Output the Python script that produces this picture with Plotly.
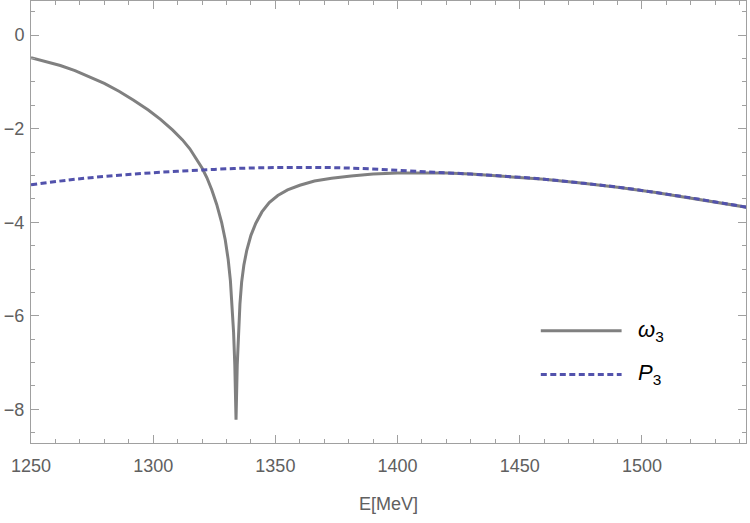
import plotly.graph_objects as go

# omega_3 curve
E_omega = [1250, 1256, 1262, 1268, 1274, 1280, 1286, 1292, 1298, 1303, 1308, 1312, 1315,
           1318, 1320, 1322, 1324, 1326, 1328, 1329.5, 1330.7, 1331.6, 1332.3, 1332.9,
           1333.4, 1333.9, 1334.4, 1334.9, 1335.5, 1336.2, 1337.1, 1338.3, 1340, 1342,
           1344.5, 1347.5, 1351, 1355, 1360, 1366, 1373, 1381, 1390, 1400, 1410, 1420,
           1430, 1445, 1460, 1475, 1490, 1505, 1520, 1535, 1543]
V_omega = [-0.48, -0.56, -0.65, -0.76, -0.89, -1.03, -1.20, -1.39, -1.60, -1.80, -2.03,
           -2.24, -2.43, -2.66, -2.84, -3.05, -3.31, -3.62, -4.00, -4.38, -4.80, -5.25,
           -5.75, -6.35, -7.05, -8.22, -7.05, -6.35, -5.75, -5.28, -4.92, -4.60, -4.28,
           -4.02, -3.78, -3.58, -3.43, -3.31, -3.21, -3.12, -3.06, -3.01, -2.97, -2.95,
           -2.94, -2.945, -2.97, -3.02, -3.08, -3.16, -3.25, -3.36, -3.48, -3.61, -3.68]

# P_3 curve
E_P = [1250, 1265, 1280, 1295, 1310, 1325, 1340, 1355, 1370, 1385, 1400, 1415, 1430,
       1445, 1460, 1475, 1490, 1505, 1520, 1535, 1543]
V_P = [-3.20, -3.10, -3.02, -2.96, -2.91, -2.87, -2.84, -2.83, -2.83, -2.85, -2.89,
       -2.93, -2.97, -3.02, -3.08, -3.16, -3.25, -3.36, -3.48, -3.61, -3.68]

x_ticks = [1250, 1300, 1350, 1400, 1450, 1500]
y_ticks = [-8, -6, -4, -2, 0]
legend_names = ["<i>ω</i><sub>3</sub>", "<i>P</i><sub>3</sub>"]

GRAY = "#808080"
BLUE = "#5252ac"
FRAME = "#a0a0a0"
TXT = "#606060"

fig = go.Figure()
fig.add_trace(go.Scatter(x=E_omega, y=V_omega, mode="lines",
                         line=dict(color=GRAY, width=3), showlegend=False))
fig.add_trace(go.Scatter(x=E_P, y=V_P, mode="lines", line_shape="spline",
                         line=dict(color=BLUE, width=3, dash="6px,3.5px"), showlegend=False))

axis_common = dict(showline=True, linecolor=FRAME, linewidth=1, mirror="ticks",
                   ticks="inside", ticklen=8, tickcolor=FRAME, tickwidth=1,
                   showgrid=False, zeroline=False,
                   tickfont=dict(family="Liberation Sans, Arial", size=18, color=TXT))

fig.update_xaxes(range=[1250, 1542.6], tickvals=x_ticks,
                 minor=dict(dtick=10, ticks="inside", ticklen=4, tickcolor=FRAME, showgrid=False),
                 title=dict(text="E[MeV]", font=dict(family="Liberation Sans, Arial", size=18, color=TXT),
                            standoff=22),
                 ticklabelstandoff=6,
                 **axis_common)
fig.update_yaxes(range=[-8.72, 0.73], tickvals=y_ticks,
                 minor=dict(dtick=0.5, ticks="inside", ticklen=4, tickcolor=FRAME, showgrid=False),
                 ticklabelstandoff=2,
                 **axis_common)

# legend drawn as decoration in paper coordinates
leg_y = [0.254, 0.155]
for i, (name, col, dash) in enumerate(zip(legend_names, [GRAY, BLUE], ["solid", "6px,3.5px"])):
    fig.add_shape(type="line", xref="paper", yref="paper", x0=0.713, x1=0.826,
                  y0=leg_y[i], y1=leg_y[i], line=dict(color=col, width=3, dash=dash))
    fig.add_annotation(xref="paper", yref="paper", x=0.846, y=leg_y[i], xanchor="left",
                       yanchor="middle", text=name, showarrow=False,
                       font=dict(family="Liberation Sans, Arial", size=22, color="black"))

fig.update_layout(width=750, height=523, margin=dict(l=31, r=4, t=1, b=80),
                  plot_bgcolor="white", paper_bgcolor="white")

fig.write_html("out.html")
